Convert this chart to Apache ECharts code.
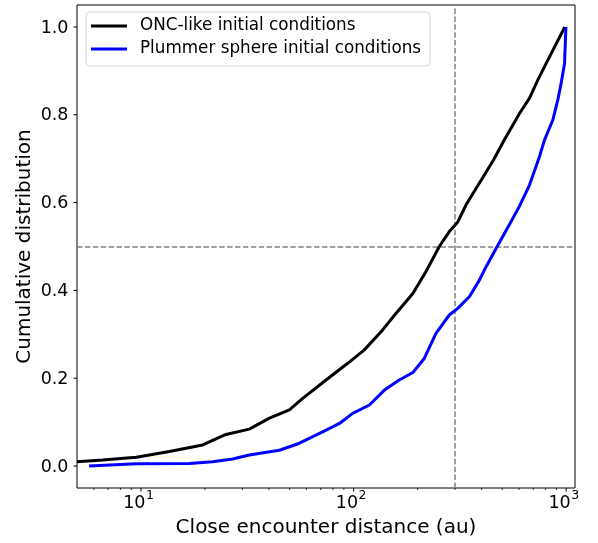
<!DOCTYPE html>
<html>
<head>
<meta charset="utf-8">
<script src="https://cdn.jsdelivr.net/npm/echarts@6/dist/echarts.min.js"></script>
<style>
html,body{margin:0;padding:0;background:#fff;}
#chart{width:598px;height:543px;}
</style>
</head>
<body>
<div id="chart"></div>
<script>
// ---- data ----
const ONC_X = [5.0, 6.6, 9.5, 13.6, 19.5, 25.1, 32.3, 40.2, 49.9, 57.6, 74.2, 93.8, 112, 137, 156, 190, 219, 253, 282, 309, 338, 398, 455, 512, 603, 672, 735, 805, 985];
const ONC_Y = [0.010, 0.014, 0.020, 0.033, 0.048, 0.072, 0.084, 0.109, 0.128, 0.154, 0.196, 0.234, 0.264, 0.310, 0.344, 0.393, 0.443, 0.500, 0.534, 0.556, 0.595, 0.651, 0.697, 0.743, 0.803, 0.838, 0.879, 0.917, 1.0];
const PLUMMER_X = [5.7, 9.5, 16.9, 21.7, 27.0, 32.3, 44.8, 55.6, 71.5, 85.8, 99.0, 118.7, 139.6, 164, 190, 215, 244, 282, 309, 351, 391, 420, 477, 541, 603, 672, 749, 791, 865, 913, 947, 982, 990, 997];
const PLUMMER_Y = [0.000, 0.005, 0.006, 0.010, 0.016, 0.025, 0.036, 0.052, 0.078, 0.097, 0.120, 0.139, 0.173, 0.196, 0.213, 0.245, 0.302, 0.344, 0.359, 0.386, 0.424, 0.454, 0.503, 0.550, 0.592, 0.640, 0.705, 0.743, 0.788, 0.834, 0.872, 0.917, 0.960, 1.0];
const SERIES_NAMES = ['ONC-like initial conditions', 'Plummer sphere initial conditions'];
const X_RANGE = [5, 1100];
const Y_RANGE = [-0.05, 1.05];
const X_MAJOR = [10, 100, 1000];
const X_MAJOR_EXP = ['1', '2', '3'];
const X_MINOR = [6, 7, 8, 9, 20, 30, 40, 50, 60, 70, 80, 90, 200, 300, 400, 500, 600, 700, 800, 900];
const Y_TICKS = [0, 0.2, 0.4, 0.6, 0.8, 1.0];
const REF_X = 300;
const REF_Y = 0.5;

const FONT = 'DejaVu Sans';
const zip = (xs, ys) => xs.map((x, i) => [x, ys[i]]);

const chart = echarts.init(document.getElementById('chart'), null, {renderer: 'canvas'});

const option = {
  animation: false,
  backgroundColor: '#ffffff',
  textStyle: {fontFamily: FONT},
  grid: {left: 77, right: 23, top: 5, bottom: 55, show: true, borderColor: '#000', borderWidth: 1, backgroundColor: 'transparent'},
  legend: {
    orient: 'vertical',
    left: 86, top: 12,
    data: SERIES_NAMES.map(n => ({name: n, icon: 'rect'})),
    itemWidth: 36, itemHeight: 3,
    itemGap: 5,
    padding: [5, 9, 8, 5],
    backgroundColor: '#ffffff',
    borderColor: 'rgba(204,204,204,0.8)',
    borderWidth: 1,
    borderRadius: 4,
    textStyle: {fontFamily: FONT, fontSize: 16.8, color: '#000', lineHeight: 18, padding: [0, 0, 0, 8]},
    selectedMode: false
  },
  xAxis: {
    type: 'log', logBase: 10,
    min: X_RANGE[0], max: X_RANGE[1],
    name: 'Close encounter distance (au)',
    nameLocation: 'middle', nameGap: 30,
    nameTextStyle: {fontFamily: FONT, fontSize: 20, color: '#000'},
    axisLine: {show: false},
    axisTick: {show: false},
    axisLabel: {show: false},
    splitLine: {show: false},
    minorTick: {show: false},
    minorSplitLine: {show: false}
  },
  yAxis: {
    type: 'value',
    min: Y_RANGE[0], max: Y_RANGE[1],
    name: 'Cumulative distribution',
    nameLocation: 'middle', nameGap: 42, nameRotate: 90,
    nameTextStyle: {fontFamily: FONT, fontSize: 20, color: '#000'},
    axisLine: {show: false},
    axisTick: {show: false},
    axisLabel: {show: false},
    splitLine: {show: false}
  },
  series: [
    {
      name: SERIES_NAMES[0], type: 'line',
      data: zip(ONC_X, ONC_Y),
      showSymbol: false, symbol: 'none',
      lineStyle: {color: '#000000', width: 3},
      itemStyle: {color: '#000000'},
      z: 3,
      markLine: {
        silent: true, symbol: 'none', label: {show: false},
        lineStyle: {color: '#808080', width: 1.5, type: [5.5, 2.4]},
        data: [{xAxis: REF_X}, {yAxis: REF_Y}],
        z: 1
      }
    },
    {
      name: SERIES_NAMES[1], type: 'line',
      data: zip(PLUMMER_X, PLUMMER_Y),
      showSymbol: false, symbol: 'none',
      lineStyle: {color: '#0000ff', width: 3},
      itemStyle: {color: '#0000ff'},
      z: 4
    },
    {
      name: 'ticks', type: 'custom',
      silent: true, clip: false,
      data: [[X_RANGE[0], Y_RANGE[0]]],
      renderItem: function (params, api) {
        const children = [];
        const yb = api.coord([X_RANGE[0], Y_RANGE[0]])[1];
        const xl = api.coord([X_RANGE[0], Y_RANGE[0]])[0];
        X_MAJOR.forEach(function (v, i) {
          const x = api.coord([v, Y_RANGE[0]])[0];
          children.push({type: 'line', shape: {x1: x, y1: yb, x2: x, y2: yb + 3.5}, style: {stroke: '#000', lineWidth: 1}});
          children.push({type: 'text', x: x + 4.5, y: yb + 15.5, style: {text: '10', fontFamily: FONT, fontSize: 17.5, fill: '#000', align: 'right', verticalAlign: 'middle'}});
          children.push({type: 'text', x: x + 5, y: yb + 7.5, style: {text: X_MAJOR_EXP[i], fontFamily: FONT, fontSize: 12.5, fill: '#000', align: 'left', verticalAlign: 'middle'}});
        });
        X_MINOR.forEach(function (v) {
          const x = api.coord([v, Y_RANGE[0]])[0];
          children.push({type: 'line', shape: {x1: x, y1: yb, x2: x, y2: yb + 2}, style: {stroke: '#000', lineWidth: 0.8}});
        });
        Y_TICKS.forEach(function (v) {
          const y = api.coord([X_RANGE[0], v])[1];
          children.push({type: 'line', shape: {x1: xl - 3.5, y1: y, x2: xl, y2: y}, style: {stroke: '#000', lineWidth: 1}});
          children.push({type: 'text', x: xl - 8.5, y: y + 1, style: {text: v.toFixed(1), fontFamily: FONT, fontSize: 17.5, fill: '#000', align: 'right', verticalAlign: 'middle'}});
        });
        return {type: 'group', children: children};
      },
      z: 5
    }
  ]
};
chart.setOption(option);
</script>
</body>
</html>
